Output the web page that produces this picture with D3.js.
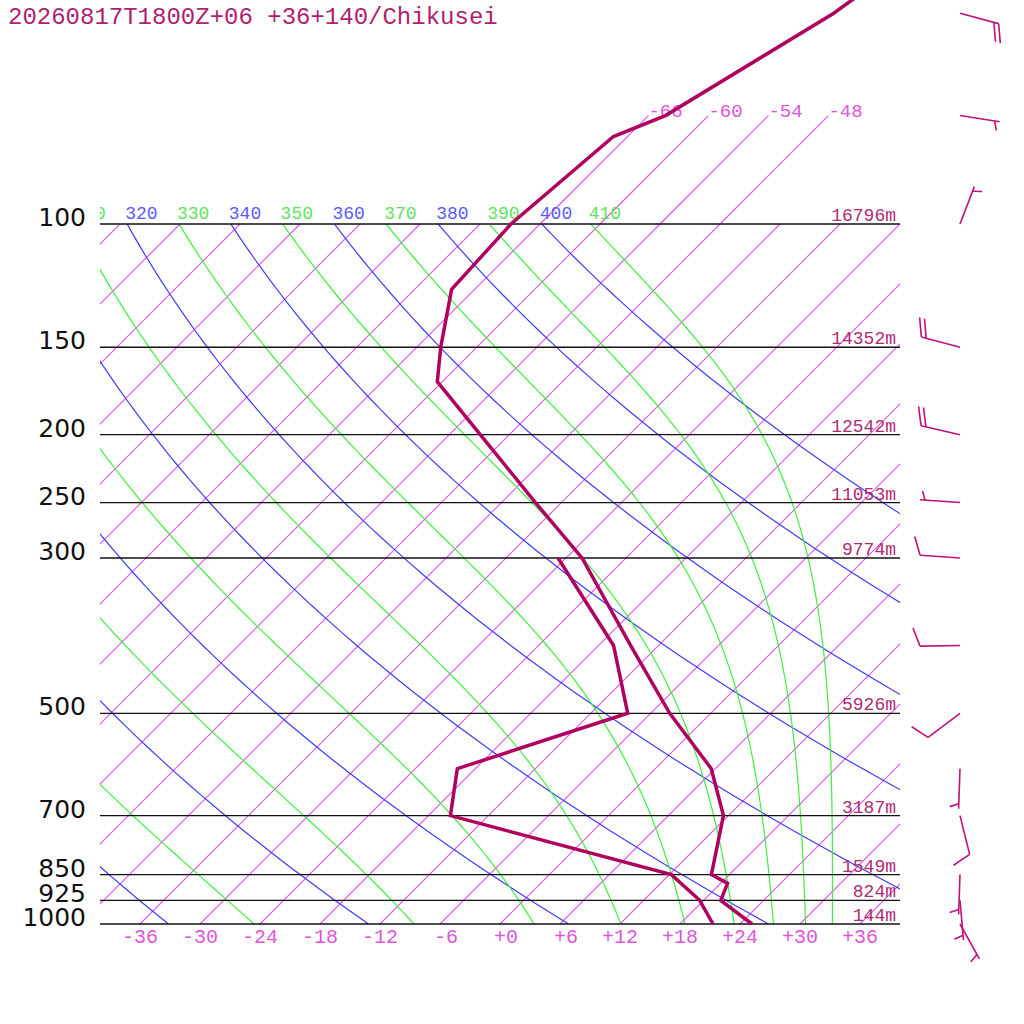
<!DOCTYPE html>
<html lang="en">
<head>
    <meta charset="UTF-8">
    <title>Skew-T 20260817T1800Z Chikusei</title>
    <style>
        body { margin: 0; background: #fff; }
    </style>
</head>
<body>
<script src="https://d3js.org/d3.v7.min.js"></script>
<script>
    const title = "20260817T1800Z+06 +36+140/Chikusei";

    // pressure levels drawn as horizontal lines, with the geopotential heights
    const levels = [1000, 925, 850, 700, 500, 300, 250, 200, 150, 100];
    const heights = ["144m", "824m", "1549m", "3187m", "5926m", "9774m", "11053m", "12542m", "14352m", "16796m"];

    // isotherm tick labels on the bottom axis
    const isoTicks = [-36, -30, -24, -18, -12, -6, 0, 6, 12, 18, 24, 30, 36];
    const upperIso = [-66, -60, -54, -48];

    // dry adiabats (theta, K) and pseudo adiabats (theta-e, K)
    const dryTheta = [200, 220, 240, 260, 280, 300, 320, 340, 360, 380, 400];
    const moistTheta = [190, 210, 230, 250, 270, 290, 310, 330, 350, 370, 390, 410];

    // temperature profile
    const tempP = [1000, 925, 875, 850, 700, 600, 500, 400, 300, 250, 200, 168, 150, 124, 100, 75, 70, 50, 30];
    const tempT = [25.2, 19.7, 18.7, 16.2, 11.5, 5.6, -4.1, -14.8, -28.4, -38.6, -50.9, -60.5, -63.6, -68.3, -68.9, -67.4, -64.3, -57.7, -51.8];

    // dewpoint profile
    const dewP = [1000, 925, 850, 700, 600, 500, 400, 300];
    const dewT = [21.3, 17.6, 12.2, -15.8, -19.8, -8.3, -16.5, -30.8];

    // winds: direction (deg) and speed (kt)
    const windP = [1000, 925, 850, 700, 600, 500, 400, 300, 250, 200, 150, 100, 70, 50];
    const windDir = [151, 175, 182, 166, 182, 233, 269, 274, 274, 283, 285, 21, 99, 105];
    const windSpd = [5, 5, 5, 10, 5, 10, 10, 10, 5, 20, 20, 5, 5, 20];

    const plotL = 100, plotR = 900, plotT = 224, plotB = 924;
    const mono = "'Liberation Mono', 'DejaVu Sans Mono', monospace";

    const y = d3.scaleLog().domain([1000, 100]).range([plotB, plotT]);
    const x = d3.scaleLinear().domain([-40, 40]).range([plotL, plotR]);
    // skewed x: isotherms lean 45 degrees
    const sx = (t, p) => x(t) + (plotB - y(p));

    const svg = d3.select("body").append("svg")
        .attr("width", 1024)
        .attr("height", 1024)
        .style("font-family", mono);

    const defs = svg.append("defs");
    defs.append("clipPath").attr("id", "plot")
        .append("rect").attr("x", plotL).attr("y", plotT).attr("width", plotR - plotL).attr("height", plotB - plotT);
    defs.append("clipPath").attr("id", "lab")
        .append("rect").attr("x", plotL).attr("y", 0).attr("width", plotR - plotL).attr("height", plotB);

    const bg = svg.append("g").attr("clip-path", "url(#plot)");

    // pressure samples for curved lines
    const pSamples = d3.range(0, 61).map(i => 1000 * Math.pow(0.1, i / 60));

    const line = d3.line().x(d => d[0]).y(d => d[1]);

    // isotherms
    const isoAll = d3.range(-120, 41, 6);
    bg.selectAll("path.iso").data(isoAll).join("path")
        .attr("class", "iso")
        .attr("d", t => line([[sx(t, 1000), y(1000)], [sx(t, 100), y(100)]]))
        .style("fill", "none")
        .style("stroke", "#e24ee8")
        .style("stroke-width", 1.1);

    svg.selectAll("path.uiso").data(upperIso).join("path")
        .attr("class", "uiso")
        .attr("d", t => line([[sx(t, 100), y(100)], [sx(t, 70), y(70)]]))
        .style("fill", "none")
        .style("stroke", "#e24ee8")
        .style("stroke-width", 1.1);

    svg.selectAll("text.uisoLab").data(upperIso).join("text")
        .attr("class", "uisoLab")
        .attr("x", t => sx(t, 70))
        .attr("y", y(70) + 1)
        .attr("font-size", 19)
        .attr("fill", "#dd55dd")
        .text(t => t);

    // dry adiabats
    const K = 0.2854;
    const dryT = (th, p) => th * Math.pow(p / 1000, K) - 273.15;
    bg.selectAll("path.dry").data(dryTheta).join("path")
        .attr("class", "dry")
        .attr("d", th => line(pSamples.map(p => [sx(dryT(th, p), p), y(p)])))
        .style("fill", "none").style("stroke", "#3c3cff").style("stroke-width", 1.2);

    // pseudo adiabats (Bolton theta-e)
    function thetaE(T, p) {
        const tc = T - 273.15;
        const es = 6.112 * Math.exp(17.67 * tc / (tc + 243.5));
        if (es >= p * 0.5) return 1e9;
        const r = 622 * es / (p - es);
        return T * Math.pow(1000 / p, K * (1 - 0.00028 * r)) *
            Math.exp((3.376 / T - 0.00254) * r * (1 + 0.00081 * r));
    }
    function moistT(te, p) {
        let lo = 120, hi = 360;
        for (let i = 0; i < 60; i++) {
            const mid = (lo + hi) / 2;
            if (thetaE(mid, p) > te) hi = mid; else lo = mid;
        }
        return (lo + hi) / 2 - 273.15;
    }
    bg.selectAll("path.moist").data(moistTheta).join("path")
        .attr("class", "moist")
        .attr("d", te => line(pSamples.map(p => [sx(moistT(te, p), p), y(p)])))
        .style("fill", "none").style("stroke", "#3cf03c").style("stroke-width", 1.2);

    // theta labels along the 100 hPa line
    const labs = svg.append("g").attr("clip-path", "url(#lab)");
    labs.selectAll("text.dl").data(dryTheta.filter(d => d >= 300)).join("text")
        .attr("class", "dl")
        .attr("x", th => sx(dryT(th, 100), 100) - 2)
        .attr("y", y(100) - 5)
        .attr("font-size", 18)
        .attr("fill", "#5a5aff")
        .text(th => th);
    labs.selectAll("text.ml").data(moistTheta.filter(d => d >= 300)).join("text")
        .attr("class", "ml")
        .attr("x", te => sx(moistT(te, 100), 100) - 2)
        .attr("y", y(100) - 5)
        .attr("font-size", 18)
        .attr("fill", "#5fe25f")
        .text(te => te);

    // pressure lines
    svg.selectAll("path.plev").data(levels).join("path")
        .attr("class", "plev")
        .attr("d", p => line([[plotL, y(p)], [plotR, y(p)]]))
        .style("fill", "none")
        .style("stroke", "#111")
        .style("stroke-width", 1.3);

    svg.selectAll("text.plab").data(levels).join("text")
        .attr("class", "plab")
        .attr("x", 86)
        .attr("y", p => y(p) + 2)
        .attr("text-anchor", "end")
        .style("font-family", "'DejaVu Sans', sans-serif")
        .attr("font-size", 25)
        .attr("fill", "#111")
        .text(p => p);

    svg.selectAll("text.hlab").data(levels).join("text")
        .attr("class", "hlab")
        .attr("x", 896)
        .attr("y", p => y(p) - 3)
        .attr("text-anchor", "end")
        .attr("font-size", 18)
        .attr("fill", "#b02a72")
        .text((p, i) => heights[i]);

    // bottom isotherm labels
    svg.selectAll("text.tlab").data(isoTicks).join("text")
        .attr("class", "tlab")
        .attr("x", t => x(t) + 18)
        .attr("y", 943)
        .attr("text-anchor", "end")
        .attr("font-size", 20)
        .attr("fill", "#dd55dd")
        .text(t => (t >= 0 ? "+" : "") + t);

    // profiles
    const prof = d3.line().x(d => sx(d[1], d[0])).y(d => y(d[0]));
    svg.append("path")
        .attr("d", prof(dewP.map((p, i) => [p, dewT[i]])))
        .style("fill", "none").style("stroke", "#b0005f").style("stroke-width", 3.5);
    svg.append("path")
        .attr("d", prof(tempP.map((p, i) => [p, tempT[i]])))
        .style("fill", "none").style("stroke", "#b0005f").style("stroke-width", 3.5);

    // wind barbs
    const barbs = svg.append("g")
        .style("stroke", "#c0107a").style("stroke-width", 1.6).style("fill", "none");
    const rad = Math.PI / 180;
    windP.forEach((p, i) => {
        const b = windDir[i] * rad;
        const dx = Math.sin(b), dy = -Math.cos(b);
        const x0 = 960, y0 = y(p);
        const tx = x0 + 40 * dx, ty = y0 + 40 * dy;
        barbs.append("line").attr("x1", x0).attr("y1", y0).attr("x2", tx).attr("y2", ty);
        const a = 70 * rad;
        const bx = dx * Math.cos(a) - dy * Math.sin(a);
        const by = dx * Math.sin(a) + dy * Math.cos(a);
        const full = Math.floor(windSpd[i] / 10);
        const half = windSpd[i] % 10 >= 5 ? 1 : 0;
        let k = 0;
        for (; k < full; k++) {
            const px = tx - dx * 5 * k, py = ty - dy * 5 * k;
            barbs.append("line").attr("x1", px).attr("y1", py)
                .attr("x2", px + bx * 19.5).attr("y2", py + by * 19.5);
        }
        if (half) {
            const kk = Math.max(k, 1);
            const px = tx - dx * 5 * kk, py = ty - dy * 5 * kk;
            barbs.append("line").attr("x1", px).attr("y1", py)
                .attr("x2", px + bx * 9.5).attr("y2", py + by * 9.5);
        }
    });

    // title
    svg.append("text")
        .attr("x", 8)
        .attr("y", 24)
        .attr("font-size", 24)
        .attr("fill", "#b01e6e")
        .text(title);
</script>
</body>
</html>
